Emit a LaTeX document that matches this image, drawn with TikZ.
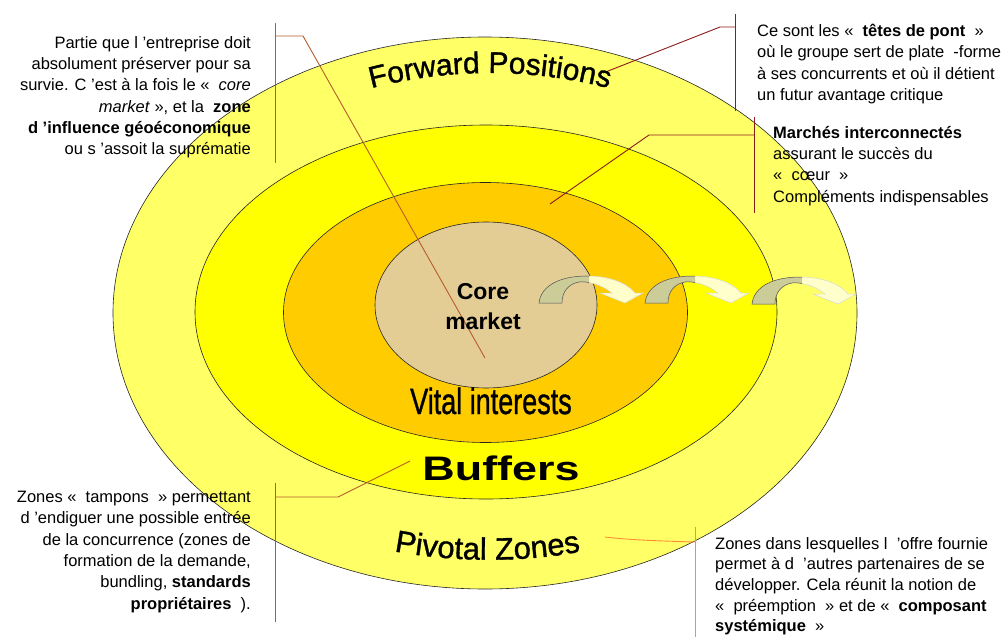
\documentclass[tikz,border=0pt]{standalone}
\usepackage{fontspec}
\setmainfont{Liberation Sans}
\newfontfamily\wordart[FakeBold=1.1]{Liberation Sans}
\usepackage{graphicx}
\usetikzlibrary{shapes.geometric,decorations.text}
\definecolor{outerY}{HTML}{FFFF66}
\definecolor{bufY}{HTML}{FFFF00}
\definecolor{vitalY}{HTML}{FFCC00}
\definecolor{coreY}{HTML}{E3CD95}
\definecolor{arrDark}{HTML}{CCCC99}
\definecolor{arrLight}{HTML}{FFFFCC}
\definecolor{leadBrown}{HTML}{B85C2C}
\definecolor{leadRed}{HTML}{8C1C1C}
\definecolor{leadOrange}{HTML}{FF8C3A}
\newcommand\callfont{\fontsize{16.5}{21.3}\selectfont}
\newcommand\fpfont{\wordart\fontsize{30}{36}\selectfont}
\newcommand\pzfont{\wordart\fontsize{31}{36}\selectfont}
\newcommand\arrowshape[1]{\path[#1] (0,0) .. controls (2,-18) and (22,-27) .. (48,-27) .. controls (70,-27) and (88,-20) .. (96,-10) -- (104,-10) -- (86,0) -- (61,-10) -- (73,-10) .. controls (62,-19) and (48,-22) .. (40,-21) .. controls (29,-19) and (23,-11) .. (23,0) -- cycle;}
\newcommand\myBendArrow{%
  \arrowshape{fill=arrLight}%
  \begin{scope}\clip (-5,-40) rectangle (50,5); \arrowshape{fill=arrDark, draw=black!70, line width=0.5pt}\end{scope}%
  \begin{scope}\clip (50,-40) rectangle (110,5); \arrowshape{draw=black!15, line width=0.5pt}\end{scope}}
\begin{document}
\begin{tikzpicture}[x=1pt,y=-1pt,
  ring/.style={ellipse, draw=black!85, line width=0.6pt, inner sep=0pt},
  call/.style={font=\callfont, inner sep=0pt},
  leadA/.style={draw=leadBrown, line width=0.9pt},
  leadB/.style={draw=leadRed, line width=0.9pt},
  leadC/.style={draw=leadOrange, line width=0.9pt}]
\useasboundingbox (0,0) rectangle (1004,637);
\fill[white] (0,0) rectangle (1004,637);

% rings
\node[ring, fill=outerY, minimum width=744pt, minimum height=552pt] (pivotal) at (485,313) {};
\node[ring, fill=bufY, minimum width=582pt, minimum height=374pt] (buffers) at (486,312) {};
\node[ring, fill=vitalY, minimum width=404pt, minimum height=260pt] (vital) at (485.5,312.5) {};
\node[ring, fill=coreY, minimum width=222pt, minimum height=166pt] (core) at (486,305) {};

% bend arrows
\begin{scope}[shift={(539,303)}]\myBendArrow\end{scope}
\begin{scope}[shift={(645,303)}]\myBendArrow\end{scope}
\begin{scope}[shift={(752,304)}]\myBendArrow\end{scope}

% leader lines
\coordinate (tlTop) at (275,23);  \coordinate (tlBot) at (275,163);
\coordinate (tlElbow) at (275,36); \coordinate (tlKnee) at (303,36); \coordinate (tlEnd) at (485,358);
\draw[leadA] (tlTop) -- (tlBot);
\draw[leadA] (tlElbow) -- (tlKnee) -- (tlEnd);

\coordinate (trTop) at (735,14);  \coordinate (trBot) at (735,111);
\coordinate (trElbow) at (735,27); \coordinate (trKnee) at (720,27); \coordinate (trEnd) at (603,73);
\draw[leadB] (trTop) -- (trBot);
\draw[leadB] (trElbow) -- (trKnee) -- (trEnd);

\coordinate (mrTop) at (754,117);  \coordinate (mrBot) at (754,213);
\coordinate (mrElbow) at (754,135); \coordinate (mrKnee) at (649,135); \coordinate (mrEnd) at (550,204);
\draw[leadB] (mrTop) -- (mrBot);
\draw[leadB] (mrElbow) -- (mrKnee) -- (mrEnd);

\coordinate (blTop) at (275,483);  \coordinate (blBot) at (275,622);
\coordinate (blElbow) at (275,497); \coordinate (blKnee) at (338,497); \coordinate (blEnd) at (410,461);
\draw[leadA] (blTop) -- (blBot);
\draw[leadA] (blElbow) -- (blKnee) -- (blEnd);

\coordinate (brTop) at (695,527);  \coordinate (brBot) at (695,637);
\coordinate (brElbow) at (695,542); \coordinate (brEnd) at (605,537);
\draw[leadC] (brTop) -- (brBot);
\draw[leadC] (brElbow) .. controls (660,541) and (630,540) .. (brEnd);

% ring labels
\node[font=\bfseries\fontsize{23}{30}\selectfont, align=center, inner sep=0pt] (coreLbl) at (483,307) {Core\\market};
\node[inner sep=0pt, anchor=base] (vitalLbl) at (491,414) {\scalebox{1}[1.35]{\wordart\fontsize{27}{30}\selectfont Vital interests}};
\node[inner sep=0pt, anchor=base] (bufLbl) at (501,480) {\scalebox{1.32}[1]{\bfseries\fontsize{34}{36}\selectfont Buffers}};
\path[decorate, decoration={text along path, text align=center, text={|\fpfont|Forward Positions}}]
  (372,88) .. controls (450,68) and (530,68) .. (608,88);
\path[decorate, decoration={text along path, text align=center, text={|\pzfont|Pivotal Zones}}]
  (388,550) .. controls (450,563) and (530,563) .. (587,550);

% callout texts
\node[call, align=right, anchor=north east] (tlText) at (251,36) {%
Partie que l ’entreprise doit\\
absolument préserver pour sa\\
survie. C ’est à la fois le «\ \ \textit{core}\\
\textit{market} », et la \ \textbf{zone}\\
\textbf{d ’influence géoéconomique}\hspace*{17pt}\\
ou s ’assoit la suprématie};

\node[call, align=left, anchor=north west] (trText) at (757,24) {%
Ce sont les « \ \textbf{têtes de pont} \ »\\
où le groupe sert de plate \ -forme\\
à ses concurrents et où il détient\\
un futur avantage critique};

\node[call, align=left, anchor=north west] (mrText) at (773,126) {%
\textbf{Marchés interconnectés}\\
assurant le succès du\\
« \ cœur \ »\\
Compléments indispensables};

\node[call, align=right, anchor=north east] (blText) at (251,491) {%
Zones « \ tampons \ » permettant\\
d ’endiguer une possible entrée\\
de la concurrence (zones de\\
formation de la demande,\\
bundling, \textbf{standards}\\
\textbf{propriétaires} \ ).};

\node[call, align=left, anchor=north west, font=\fontsize{16.5}{20.7}\selectfont] (brText) at (715,537) {%
Zones dans lesquelles l \ ’offre fournie\\
permet à d \ ’autres partenaires de se\\
développer. Cela réunit la notion de\\
« \ préemption \ » et de « \ \textbf{composant}\\
\textbf{systémique} \ »};
\end{tikzpicture}
\end{document}
